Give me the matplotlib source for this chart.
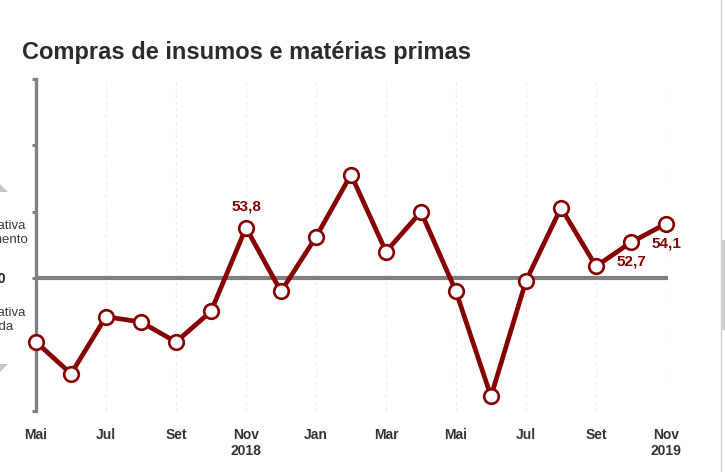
import matplotlib
matplotlib.use("Agg")
import matplotlib.pyplot as plt
from matplotlib.patches import Polygon, Rectangle
from matplotlib.lines import Line2D

plt.rcParams['font.family'] = ['Liberation Sans', 'DejaVu Sans']

# Data: monthly index, May 2018 .. Nov 2019
months = ["Mai", "Jun", "Jul", "Ago", "Set", "Out", "Nov", "Dez",
          "Jan", "Fev", "Mar", "Abr", "Mai", "Jun", "Jul", "Ago",
          "Set", "Out", "Nov"]
values = [45.2, 42.8, 47.1, 46.7, 45.2, 47.5, 53.8, 49.0,
          53.1, 57.8, 52.0, 55.0, 49.0, 41.1, 49.8, 55.3,
          50.9, 52.7, 54.1]
tick_labels = ["Mai", "Jul", "Set", "Nov\n2018", "Jan", "Mar",
               "Mai", "Jul", "Set", "Nov\n2019"]
labelled = {6: "53,8", 17: "52,7", 18: "54,1"}
reference_level = 50
y_ticks = [40, 45, 50, 55, 60, 65]

W, H = 725, 472
fig = plt.figure(figsize=(W / 100, H / 100), dpi=100)
fig.patch.set_facecolor("white")

ax = fig.add_axes([36 / W, (H - 411) / H, (666 - 36) / W, 332 / H])
x = list(range(len(values)))

ax.set_xlim(0, len(values) - 1)
ax.set_ylim(y_ticks[0], y_ticks[-1])

# faint dashed vertical gridlines
tick_pos = x[::2]
for tp in tick_pos[1:]:
    ax.axvline(tp, color="#ebebeb", lw=0.8, ls=(0, (3, 3)), zorder=0)

# reference line at 50
ax.plot([x[0], x[-1] + 0.05], [reference_level, reference_level], color="#808080",
        lw=3.0, solid_capstyle="butt", zorder=1, clip_on=False)

red = "#870000"
ax.plot(x, values, color=red, lw=3.4, zorder=3, clip_on=False,
        marker="o", markersize=10.5, markerfacecolor="white",
        markeredgecolor=red, markeredgewidth=1.9)

# value labels
offsets = {6: (0, 14, "center", "bottom"),
           17: (0, -12, "center", "top"),
           18: (0, -13, "center", "top")}
for i, txt in labelled.items():
    dx, dy, ha, va = offsets[i]
    ax.annotate(txt, (x[i], values[i]), xytext=(dx, dy),
                textcoords="offset pixels", ha=ha, va=va,
                color=red, fontsize=11, fontweight="bold")

# spines
for s in ["top", "right", "bottom"]:
    ax.spines[s].set_visible(False)
ax.spines["left"].set_color("#808080")
ax.spines["left"].set_linewidth(2.4)
ax.set_yticks(y_ticks)
ax.set_yticklabels([])
ax.tick_params(axis="y", direction="out", length=3, width=2.2, color="#808080")

ax.set_xticks(tick_pos)
ax.set_xticklabels(tick_labels, fontsize=10, fontweight="bold", color="#333333",
                   linespacing=1.25)
ax.tick_params(axis="x", length=0, pad=12)

# title
fig.text(22 / W, 1 - 53 / H, "Compras de insumos e matérias primas",
         fontsize=17, fontweight="bold", color="#2b2b2b", va="center", ha="left")

# cut-off left side annotations (the reference crops these at the edge)
fig.text(-42 / W, 1 - 233 / H, "Expectativa\nde aumento", fontsize=9.5,
         color="#3a3a3a", ha="left", va="center", linespacing=1.15)
fig.text(-42 / W, 1 - 320 / H, "Expectativa\nde queda", fontsize=9.5,
         color="#3a3a3a", ha="left", va="center", linespacing=1.15)
fig.text(6 / W, 1 - 279 / H, "50", fontsize=10, fontweight="bold",
         color="#222222", ha="right", va="center")

# gray arrow heads (cut off)
def px(xp, yp):
    return (xp / W, 1 - yp / H)

fig.patches.append(Polygon([px(-14, 192), px(-3, 181), px(8, 192)],
                           closed=True, transform=fig.transFigure,
                           facecolor="#c8c8c8", edgecolor="none"))
fig.patches.append(Polygon([px(-14, 364), px(-3, 375), px(8, 364)],
                           closed=True, transform=fig.transFigure,
                           facecolor="#c8c8c8", edgecolor="none"))

# right border / scrollbar
fig.lines.append(Line2D([721 / W, 721 / W], [0, 1], transform=fig.transFigure,
                        color="#d0d0d0", lw=1))
fig.patches.append(Rectangle(px(721.5, 330), 4 / W, 90 / H,
                             transform=fig.transFigure,
                             facecolor="#cfcfcf", edgecolor="none"))

fig.savefig("out.png", dpi=100)
